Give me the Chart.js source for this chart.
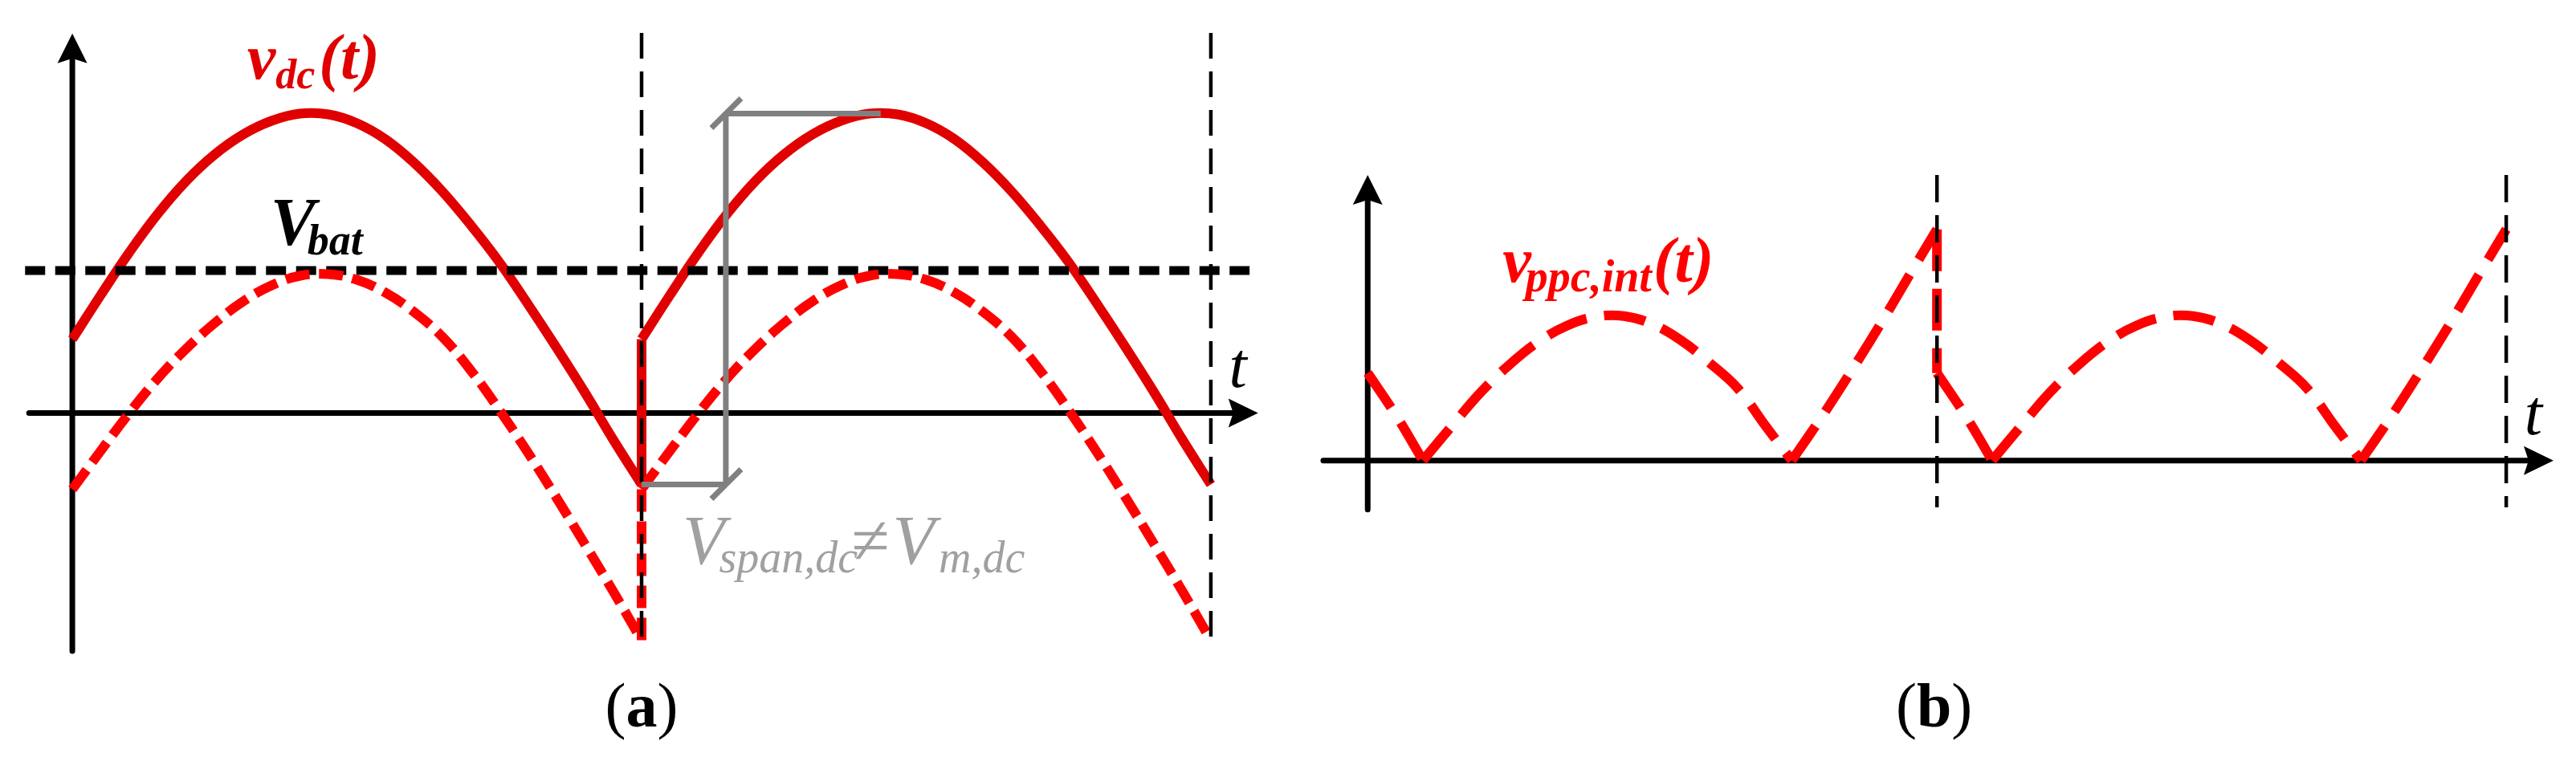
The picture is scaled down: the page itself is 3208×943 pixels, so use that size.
<!DOCTYPE html>
<html>
<head>
<meta charset="utf-8">
<script src="https://cdn.jsdelivr.net/npm/chart.js@4.4.1/dist/chart.umd.min.js"></script>
<style>
    html, body { margin: 0; padding: 0; background: #fff; }
    #wrap { position: relative; width: 3208px; height: 943px; background: #fff; }
    canvas { position: absolute; top: 0; }
    #chartA { left: 0; }
    #chartB { left: 1600px; }
</style>
</head>
<body>
<div id="wrap">
    <canvas id="chartA" width="1600" height="943"></canvas>
    <canvas id="chartB" width="1608" height="943"></canvas>
</div>
<script>
// time in periods, one period of each waveform
const tA = [0, 0.05, 0.1, 0.15, 0.2, 0.25, 0.3, 0.35, 0.4, 0.45, 0.5, 0.55, 0.6, 0.65, 0.7, 0.75, 0.8, 0.85, 0.9, 0.95, 1];
const vdcA = [0.92, 1.47, 2.00, 2.48, 2.89, 3.22, 3.47, 3.64, 3.73, 3.72, 3.61, 3.41, 3.12, 2.76, 2.34, 1.88, 1.36, 0.82, 0.26, -0.33, -0.89];
const vdcLowA = [-0.95, -0.47, 0.00, 0.43, 0.80, 1.12, 1.39, 1.59, 1.71, 1.73, 1.66, 1.50, 1.26, 0.95, 0.53, 0.04, -0.49, -1.05, -1.63, -2.22, -2.83];
const vbat = 1.775;

const tB = [0, 0.05, 0.097, 0.15, 0.2, 0.25, 0.3, 0.35, 0.4, 0.45, 0.5, 0.55, 0.6, 0.65, 0.7, 0.745, 0.8, 0.85, 0.9, 0.95, 1];
const vppcB = [1.09, 0.56, 0, 0.45, 0.86, 1.20, 1.48, 1.68, 1.79, 1.80, 1.70, 1.50, 1.22, 0.90, 0.42, 0, 0.57, 1.12, 1.69, 2.29, 2.88];

const periods = [0, 1];
const periodMarks = [1, 2];

const FONT = '"Liberation Serif", "Times New Roman", serif';
const RED_DARK = "#e00000";
const RED = "#ff0000";
const GREY = "#808080";
const GREY_TEXT = "#a0a0a0";

// axis extents in data units
const axisA = { tFrom: -0.076, tTip: 2.083, vFrom: -2.965, vTip: 4.728 };
const axisB = { tFrom: -0.078, tTip: 2.083, vFrom: -0.61, vTip: 3.557 };
const markSpanA = [4.735, -2.945];
const markSpanB = [3.557, -0.583];
const vbatSpan = [-0.083, 2.068];
const bracketT = 1.148;
const bracketTopEnd = 1.42;

const labelsA =
[
    { t: 0.307, v: 4.165, color: RED_DARK, parts:
        [
            { text: "v", style: "italic bold", size: 80 },
            { text: "dc", style: "italic bold", size: 52, dy: 12, kern: 0 },
            { text: "(t)", style: "italic bold", size: 80, kern: 5 }
        ]
    },
    { t: 0.348, v: 2.095, color: "#000", parts:
        [
            { text: "V", style: "italic bold", size: 84 },
            { text: "bat", style: "italic bold", size: 54, dy: 12, kern: -10 }
        ]
    },
    { t: 1.072, v: -1.875, color: GREY_TEXT, parts:
        [
            { text: "V", style: "italic", size: 86 },
            { text: "span,dc", style: "italic", size: 56, dy: 11, kern: -7 },
            { text: "\u2260", style: "italic", size: 86, kern: -9 },
            { text: "V", style: "italic", size: 86, kern: 5 },
            { text: "m,dc", style: "italic", size: 56, dy: 11, kern: 5 }
        ]
    },
    { t: 2.032, v: 0.325, color: "#000", parts: [{ text: "t", style: "italic", size: 80 }] },
    { t: 1.0, v: -3.905, color: "#000", align: "center", parts:
        [
            { text: "(", style: "normal", size: 78 },
            { text: "a", style: "bold", size: 78 },
            { text: ")", style: "normal", size: 78 }
        ]
    }
];

const labelsB =
[
    { t: 0.237, v: 2.227, color: RED, parts:
        [
            { text: "v", style: "italic bold", size: 80 },
            { text: "ppc,int", style: "italic bold", size: 56, dy: 12, kern: -7 },
            { text: "(t)", style: "italic bold", size: 80, kern: 2 }
        ]
    },
    { t: 2.032, v: 0.327, color: "#000", parts: [{ text: "t", style: "italic", size: 80 }] },
    { t: 0.995, v: -3.313, color: "#000", align: "center", parts:
        [
            { text: "(", style: "normal", size: 78 },
            { text: "b", style: "bold", size: 78 },
            { text: ")", style: "normal", size: 78 }
        ]
    }
];

function periodData(ts, vs, shift)
{
    return ts.map((t, i) => ({ x: t + shift, y: vs[i] }));
}

function line(data, color, width, dash, order, tension)
{
    return {
        data: data,
        borderColor: color,
        borderWidth: width,
        borderDash: dash || [],
        borderCapStyle: "butt",
        fill: false,
        pointRadius: 0,
        tension: tension || 0,
        order: order
    };
}

function drawAxes(chart, ax)
{
    const { ctx, scales: { x, y } } = chart;
    const x0 = x.getPixelForValue(0), y0 = y.getPixelForValue(0);
    const xa = x.getPixelForValue(ax.tFrom), xt = x.getPixelForValue(ax.tTip);
    const yb = y.getPixelForValue(ax.vFrom), yt = y.getPixelForValue(ax.vTip);
    ctx.save();
    ctx.strokeStyle = "#000";
    ctx.fillStyle = "#000";
    ctx.lineWidth = 7;
    ctx.lineCap = "round";
    ctx.beginPath();
    ctx.moveTo(xa, y0);
    ctx.lineTo(xt - 30, y0);
    ctx.moveTo(x0, yb);
    ctx.lineTo(x0, yt + 30);
    ctx.stroke();
    ctx.beginPath();
    ctx.moveTo(xt, y0);
    ctx.lineTo(xt - 37, y0 - 18);
    ctx.lineTo(xt - 31, y0);
    ctx.lineTo(xt - 37, y0 + 18);
    ctx.closePath();
    ctx.fill();
    ctx.beginPath();
    ctx.moveTo(x0, yt);
    ctx.lineTo(x0 - 18.5, yt + 37);
    ctx.lineTo(x0, yt + 31);
    ctx.lineTo(x0 + 18.5, yt + 37);
    ctx.closePath();
    ctx.fill();
    ctx.restore();
}

function drawBracket(chart)
{
    const { ctx, scales: { x, y } } = chart;
    const yTop = y.getPixelForValue(Math.max(...vdcA));
    const yBot = y.getPixelForValue(vdcA[vdcA.length - 1]);
    const bx = x.getPixelForValue(bracketT);
    ctx.save();
    ctx.strokeStyle = GREY;
    ctx.lineWidth = 7;
    ctx.lineCap = "butt";
    ctx.beginPath();
    ctx.moveTo(bx, yTop);
    ctx.lineTo(bx, yBot);
    ctx.moveTo(bx, yTop);
    ctx.lineTo(x.getPixelForValue(bracketTopEnd), yTop);
    ctx.moveTo(x.getPixelForValue(1), yBot);
    ctx.lineTo(bx, yBot);
    [yTop, yBot].forEach(yy =>
    {
        ctx.moveTo(bx - 18, yy + 18);
        ctx.lineTo(bx + 19, yy - 19);
    });
    ctx.stroke();
    ctx.restore();
}

function drawLabel(chart, l)
{
    const ctx = chart.ctx;
    let px = chart.scales.x.getPixelForValue(l.t);
    const py = chart.scales.y.getPixelForValue(l.v);
    ctx.save();
    ctx.fillStyle = l.color;
    ctx.textBaseline = "alphabetic";
    ctx.textAlign = "left";
    const widths = l.parts.map(p =>
    {
        ctx.font = p.style + " " + p.size + "px " + FONT;
        return ctx.measureText(p.text).width;
    });
    if (l.align === "center")
    {
        const total = l.parts.reduce((s, p, i) => s + widths[i] + (p.kern || 0), 0);
        px -= total / 2;
    }
    l.parts.forEach((p, i) =>
    {
        px += p.kern || 0;
        ctx.font = p.style + " " + p.size + "px " + FONT;
        ctx.fillText(p.text, px, py + (p.dy || 0));
        px += widths[i];
    });
    ctx.restore();
}

function options(padding, xr, yr)
{
    return {
        responsive: false,
        animation: false,
        devicePixelRatio: 1,
        events: [],
        layout: { padding: padding },
        plugins: { legend: { display: false }, tooltip: { enabled: false } },
        scales:
        {
            x: { type: "linear", min: xr[0], max: xr[1], display: false },
            y: { type: "linear", min: yr[0], max: yr[1], display: false }
        }
    };
}

// panel (a)
const dsA = [];
periods.forEach(p =>
{
    dsA.push(line(periodData(tA, vdcA, p), RED_DARK, 12, null, 3, 0.4));
    dsA.push(line(periodData(tA, vdcLowA, p), RED, 12, [30, 12], 1, 0.4));
});
periods.slice(1).forEach(p =>
{
    dsA.push(line([{ x: p, y: vdcA[vdcA.length - 1] }, { x: p, y: vdcA[0] }], RED_DARK, 12, null, 3));
    dsA.push(line([{ x: p, y: vdcLowA[vdcLowA.length - 1] }, { x: p, y: vdcLowA[0] }], RED, 12, [28, 12], 1));
});
dsA.push(line([{ x: vbatSpan[0], y: vbat }, { x: vbatSpan[1], y: vbat }], "#000", 11, [25, 12.5], 2));
periodMarks.forEach(m =>
{
    dsA.push(line([{ x: m, y: markSpanA[0] }, { x: m, y: markSpanA[1] }], "#000", 4.5, [32, 16], 0));
});

new Chart(document.getElementById("chartA"),
{
    type: "line",
    data: { datasets: dsA },
    options: options({ left: 5, right: 7, top: 34.5, bottom: 8.5 }, [-0.12, 2.12], [-4.2, 4.8]),
    plugins:
    [
        {
            id: "sketchA",
            beforeDatasetsDraw(chart) { drawAxes(chart, axisA); },
            afterDatasetsDraw(chart)
            {
                drawBracket(chart);
                labelsA.forEach(l => drawLabel(chart, l));
            }
        }
    ]
});

// panel (b): split the rectified curve where it touches zero
const segB = [];
let start = 0;
for (let i = 1; i < tB.length; i++)
{
    if (vppcB[i] === 0 || i === tB.length - 1)
    {
        segB.push([start, i]);
        start = i;
    }
}
const dsB = [];
periods.forEach(p =>
{
    segB.forEach(([a, b]) =>
    {
        dsB.push(line(periodData(tB.slice(a, b + 1), vppcB.slice(a, b + 1), p), RED, 12, [52, 22], 1, 0.4));
    });
});
periods.slice(1).forEach(p =>
{
    dsB.push(line([{ x: p, y: vppcB[vppcB.length - 1] }, { x: p, y: vppcB[0] }], RED, 12, [52, 22], 1));
});
periodMarks.forEach(m =>
{
    dsB.push(line([{ x: m, y: markSpanB[0] }, { x: m, y: markSpanB[1] }], "#000", 4.5, [34, 16], 0));
});

new Chart(document.getElementById("chartB"),
{
    type: "line",
    data: { datasets: dsB },
    options: options({ left: 4, right: 16, top: 33.7, bottom: 9.3 }, [-0.14, 2.1], [-3.6, 5.4]),
    plugins:
    [
        {
            id: "sketchB",
            beforeDatasetsDraw(chart) { drawAxes(chart, axisB); },
            afterDatasetsDraw(chart) { labelsB.forEach(l => drawLabel(chart, l)); }
        }
    ]
});
</script>
</body>
</html>
